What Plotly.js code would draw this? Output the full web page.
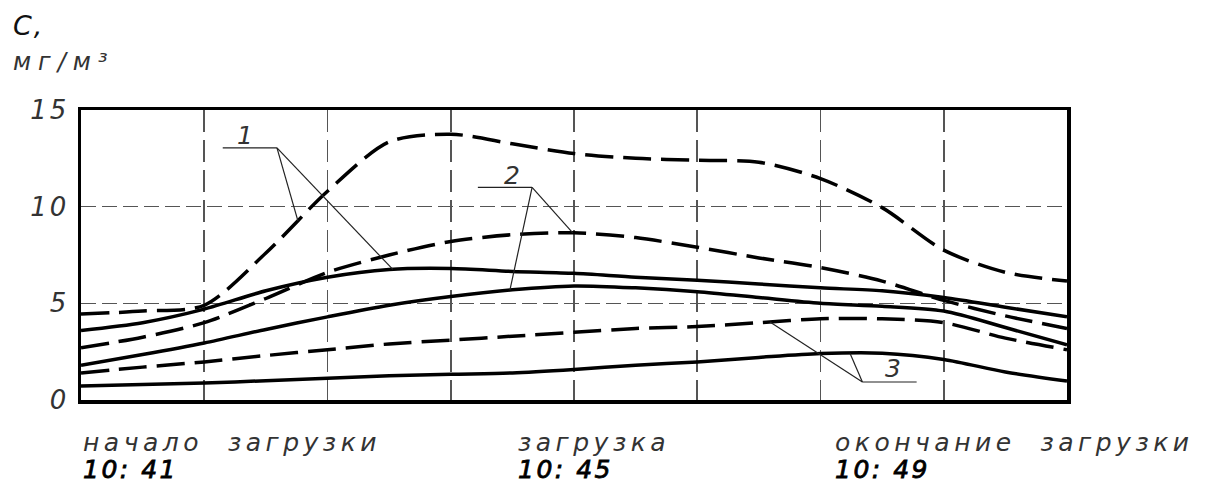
<!DOCTYPE html>
<html>
<head>
<meta charset="utf-8">
<script src="https://cdn.plot.ly/plotly-3.0.1.min.js"></script>
<style>
  html, body { margin: 0; padding: 0; background: #fff; }
  #chart { width: 1215px; height: 484px; }
  .ytick text { letter-spacing: 3px; }
</style>
</head>
<body>
<div id="chart"></div>
<script>
// time in minutes after 10:41
const minutes = [0, 0.5, 1, 1.5, 2, 2.5, 3, 3.5, 4, 4.5, 5, 5.5, 6, 6.5, 7, 7.5, 8];

// series (C, mg/m3)
const curve1Dashed = [4.45, 4.6, 4.9, 7.6, 10.8, 13.35, 13.75, 13.25, 12.75, 12.5, 12.4, 12.3, 11.45, 9.95, 7.75, 6.6, 6.15];
const curve1Solid  = [3.6, 4.0, 4.7, 5.65, 6.35, 6.75, 6.8, 6.65, 6.55, 6.35, 6.2, 6.0, 5.8, 5.65, 5.3, 4.8, 4.3];
const curve2Dashed = [2.7, 3.25, 4.0, 5.25, 6.6, 7.5, 8.2, 8.55, 8.65, 8.4, 7.9, 7.35, 6.85, 6.15, 5.15, 4.35, 3.7];
const curve2Solid  = [1.8, 2.35, 2.95, 3.65, 4.3, 4.9, 5.35, 5.7, 5.9, 5.8, 5.6, 5.3, 5.0, 4.85, 4.6, 3.75, 2.85];
const curve3Dashed = [1.4, 1.7, 1.97, 2.3, 2.6, 2.9, 3.1, 3.3, 3.5, 3.7, 3.8, 4.0, 4.2, 4.2, 4.0, 3.2, 2.6];
const curve3Solid  = [0.72, 0.8, 0.88, 1.0, 1.13, 1.25, 1.33, 1.4, 1.58, 1.8, 1.97, 2.2, 2.4, 2.42, 2.1, 1.45, 0.98];

// axis ticks
const yTicks = [0, 5, 10, 15];
const yTickLabels = ['0', '5', '10', '15'];

// bottom labels
const phaseLabels = ['начало  загрузки', 'загрузка', 'окончание  загрузки'];
const timeLabels = ['10: 41', '10: 45', '10: 49'];
const labelX = [0.0, 3.53, 6.1];

// callouts: label, which curves, where they touch
const calloutLabels = ['1', '2', '3'];
const calloutCurves = [[curve1Dashed, curve1Solid], [curve2Solid, curve2Dashed], [curve3Dashed, curve3Solid]];
const calloutTargetX = [[1.76, 2.53], [3.48, 3.99], [5.59, 6.24]];

// layout-only values for callouts
const calloutTextPos = [[1.33, 13.7], [3.5, 11.6], [6.59, 1.65]];
const calloutShelf = [[1.15, 1.59, 13.04], [3.22, 3.66, 11.0], [6.78, 6.34, 0.93]]; // [from, junction, y]

function interp(xs, ys, x) {
  for (let i = 0; i < xs.length - 1; i++) {
    if (x >= xs[i] && x <= xs[i + 1]) {
      const t = (x - xs[i]) / (xs[i + 1] - xs[i]);
      return ys[i] + t * (ys[i + 1] - ys[i]);
    }
  }
  return ys[ys.length - 1];
}

const DASH = '28px,10px';
function tr(y, dashed) {
  return {
    x: minutes, y: y, type: 'scatter', mode: 'lines',
    line: { color: '#000', width: 3.5, shape: 'spline', smoothing: 0.8, dash: dashed ? DASH : 'solid' },
    hoverinfo: 'skip', showlegend: false
  };
}

const data = [
  tr(curve1Dashed, true), tr(curve1Solid, false),
  tr(curve2Dashed, true), tr(curve2Solid, false),
  tr(curve3Dashed, true), tr(curve3Solid, false)
];

const shapes = [];
const annotations = [];
const annStyles = []; // [letterSpacing px, strokeWidth px] per annotation; null = untouched
const thin = { color: '#222', width: 1.2 };
for (let k = 0; k < calloutLabels.length; k++) {
  const [x0, xj, yj] = calloutShelf[k];
  shapes.push({ type: 'line', xref: 'x', yref: 'y', x0: x0, x1: xj, y0: yj, y1: yj, line: thin });
  for (let m = 0; m < 2; m++) {
    const tx = calloutTargetX[k][m];
    const ty = interp(minutes, calloutCurves[k][m], tx);
    shapes.push({ type: 'line', xref: 'x', yref: 'y', x0: xj, y0: yj, x1: tx, y1: ty, line: thin });
  }
  annotations.push({
    xref: 'x', yref: 'y', x: calloutTextPos[k][0], y: calloutTextPos[k][1],
    text: calloutLabels[k], showarrow: false,
    font: { family: 'DejaVu Sans', size: 25, color: '#333', style: 'italic' }
  });
  annStyles.push(null);
}

for (let i = 0; i < phaseLabels.length; i++) {
  annotations.push({
    xref: 'x', yref: 'paper', x: labelX[i], y: -0.145, xanchor: 'left', yanchor: 'middle',
    text: phaseLabels[i], showarrow: false,
    font: { family: 'DejaVu Sans', size: 25, color: '#333', style: 'italic' }
  });
  annStyles.push([4.5, 0]);
  annotations.push({
    xref: 'x', yref: 'paper', x: labelX[i], y: -0.24, xanchor: 'left', yanchor: 'middle',
    text: timeLabels[i], showarrow: false,
    font: { family: 'DejaVu Sans', size: 25, color: '#000', style: 'italic' }
  });
  annStyles.push([2.5, 0.8]);
}

annotations.push({
  xref: 'paper', yref: 'paper', x: -0.071, y: 1.29, xanchor: 'left', yanchor: 'middle',
  text: 'C,', showarrow: false,
  font: { family: 'DejaVu Sans', size: 27, color: '#111', style: 'italic' }
});
annStyles.push([2, 0]);
annotations.push({
  xref: 'paper', yref: 'paper', x: -0.071, y: 1.165, xanchor: 'left', yanchor: 'middle',
  text: 'мг/м³', showarrow: false,
  font: { family: 'DejaVu Sans', size: 24, color: '#333', style: 'italic' }
});
annStyles.push([7, 0]);

const layout = {
  width: 1215, height: 484,
  margin: { l: 81, r: 148, t: 110, b: 84, pad: 0 },
  paper_bgcolor: '#fff', plot_bgcolor: '#fff',
  showlegend: false,
  xaxis: {
    range: [0, 8], dtick: 1, tick0: 0, showticklabels: false, ticks: '',
    showgrid: true, gridcolor: '#555', gridwidth: 1.6, griddash: '22px,8px',
    showline: true, linecolor: '#000', linewidth: 3.5, mirror: true, zeroline: false
  },
  yaxis: {
    range: [0, 15], tickvals: yTicks, ticktext: yTickLabels, ticks: '',
    ticklabelstandoff: 3,
    tickfont: { family: 'DejaVu Sans', size: 26, color: '#333', style: 'italic' },
    showgrid: true, gridcolor: '#555', gridwidth: 1.6, griddash: '15px,6px',
    showline: true, linecolor: '#000', linewidth: 3.5, mirror: true, zeroline: false
  },
  shapes: shapes,
  annotations: annotations
};

Plotly.newPlot('chart', data, layout, { staticPlot: true, displayModeBar: false }).then(function (gd) {
  gd.querySelectorAll('g.annotation').forEach(function (g) {
    const idx = parseInt(g.getAttribute('data-index'), 10);
    const st = annStyles[idx];
    if (!st) return;
    const t = g.querySelector('text.annotation-text');
    if (!t) return;
    const bb = t.getBBox();
    t.setAttribute('text-anchor', 'start');
    t.setAttribute('x', bb.x);
    t.style.letterSpacing = st[0] + 'px';
    if (st[1] > 0) {
      t.style.stroke = '#000';
      t.style.strokeWidth = st[1] + 'px';
    }
  });
});
</script>
</body>
</html>
